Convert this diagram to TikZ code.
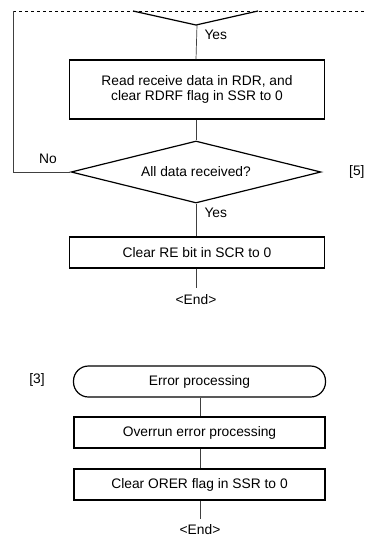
\documentclass[tikz,border=0pt]{standalone}
\usepackage{fontspec}
\setmainfont{Liberation Sans}
\usetikzlibrary{shapes.geometric}

\begin{document}
\begin{tikzpicture}[x=1pt, y=-1pt,
    every node/.style={font=\fontsize{13.8}{15.5}\selectfont},
    procbox/.style={draw=black, line width=1.2pt, minimum width=255pt, minimum height=31pt, inner sep=0pt, align=center},
    termbox/.style={procbox, rounded corners=15pt, minimum width=252pt},
    decision/.style={diamond, draw=black, line width=1.2pt, minimum width=250pt, minimum height=62pt, inner sep=0pt, aspect=4},
    flow/.style={draw=black!75, line width=0.7pt}]
    \useasboundingbox (0,0) rectangle (365,538);

    % continued from the previous part
    \draw[black, line width=1pt, dash pattern=on 3pt off 3pt] (13,11) -- (365,11);
    \coordinate (prevL) at (133,11);
    \coordinate (prevA) at (196,25);
    \coordinate (prevR) at (258,11);
    \draw[black, line width=1.2pt] (prevL) -- (prevA) -- (prevR);

    \node[procbox, minimum height=59pt] (readrdr) at (197,89.5) {Read receive data in RDR, and\\clear RDRF flag in SSR to 0};
    \node[decision] (alldata) at (196,172) {All data received?};
    \node[procbox] (clearre) at (197,252.5) {Clear RE bit in SCR to 0};
    \coordinate (endA) at (196,288);
    \node (endtxt) at (196,300) {<End>};
    \coordinate (loopB) at (13,172);
    \coordinate (loopT) at (13,11);

    \draw[flow] (prevA) -- (readrdr.north |- prevA) -- (readrdr.north -| prevA);
    \draw[flow] (readrdr.south -| alldata.north) -- (alldata.north);
    \draw[flow] (alldata.south) -- (clearre.north -| alldata.south);
    \draw[flow] (clearre.south -| endA) -- (endA);
    \draw[flow] (alldata.west) -- (loopB) -- (loopT);

    \node[anchor=west] (yes1) at (201,35) {Yes};
    \node[anchor=west] (yes2) at (201,213) {Yes};
    \node (no) at (48,159) {No};
    \node[anchor=west, inner sep=0pt] (ref5) at (349,172) {[5]};

    % error processing
    \node (ref3) at (37,380) {[3]};
    \node[termbox] (errproc) at (199.5,381.5) {Error processing};
    \node[procbox, minimum width=251pt] (overrun) at (199.5,432.5) {Overrun error processing};
    \node[procbox, minimum width=251pt] (clearorer) at (199.5,484.5) {Clear ORER flag in SSR to 0};
    \coordinate (endB) at (200,519);
    \node (endtxt2) at (200,529.5) {<End>};

    \draw[flow] (errproc.south -| endB) -- (overrun.north -| endB);
    \draw[flow] (overrun.south -| endB) -- (clearorer.north -| endB);
    \draw[flow] (clearorer.south -| endB) -- (endB);
\end{tikzpicture}
\end{document}
